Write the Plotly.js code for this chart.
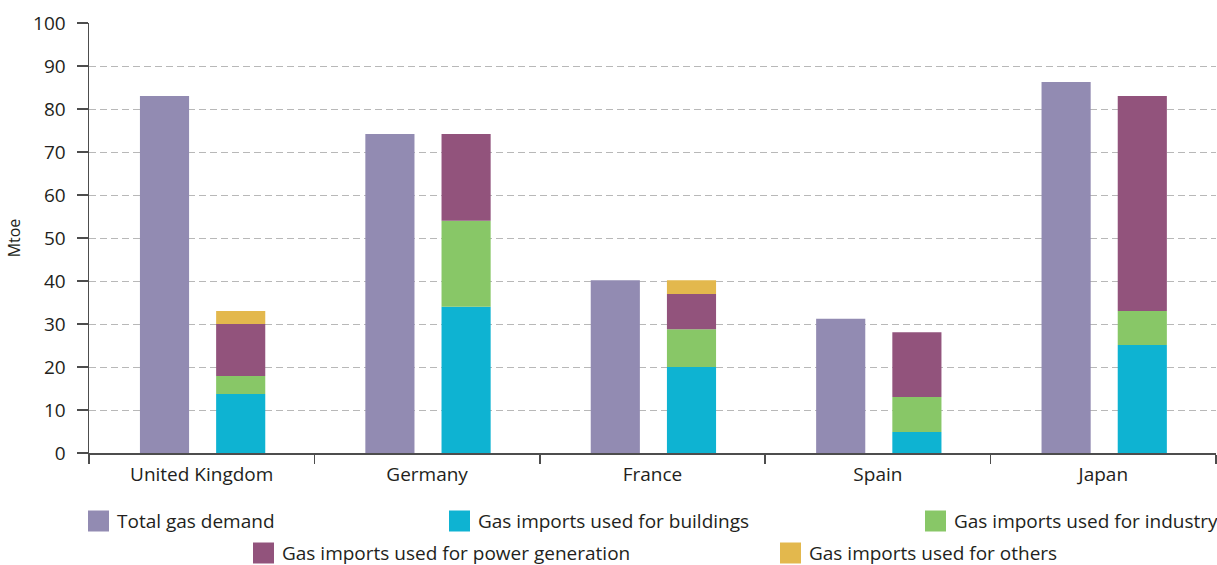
<!DOCTYPE html>
<html>
<head>
<meta charset="utf-8">
<script src="https://cdn.plot.ly/plotly-3.0.1.min.js"></script>
<style>html,body{margin:0;padding:0;background:#fff}#chart{width:1217px;height:565px}</style>
</head>
<body>
<div id="chart"></div>
<script>
const categories = ["United Kingdom", "Germany", "France", "Spain", "Japan"];
const totalDemand = [83, 74.2, 40.2, 31.2, 86.3];
const importsBuildings = [13.7, 34, 20, 4.9, 25.1];
const importsIndustry = [4.2, 20, 8.8, 8.1, 7.9];
const importsPower = [12.1, 20.2, 8.2, 15.1, 50];
const importsOthers = [3, 0, 3.2, 0, 0];
const yTicks = [0, 10, 20, 30, 40, 50, 60, 70, 80, 90, 100];

const seriesNames = ["Total gas demand", "Gas imports used for buildings", "Gas imports used for industry", "Gas imports used for power generation", "Gas imports used for others"];
const seriesColors = ["#928BB2", "#0EB3D2", "#88C767", "#92537C", "#E3B84D"];

const FONT = "'Open Sans', 'Noto Sans', sans-serif";
const TXT = "#231F20";
const BW = 0.218;

const traces = [];
traces.push({
  type: "bar", x: categories, y: totalDemand, name: seriesNames[0],
  marker: {color: seriesColors[0]}, width: BW, offset: -0.274, showlegend: false, hoverinfo: "x+y+name"
});
const stackSeries = [importsBuildings, importsIndustry, importsPower, importsOthers];
let base = categories.map(() => 0);
stackSeries.forEach((vals, i) => {
  traces.push({
    type: "bar", x: categories, y: vals, base: base.slice(), name: seriesNames[i + 1],
    marker: {color: seriesColors[i + 1]}, width: BW, offset: 0.064, showlegend: false, hoverinfo: "x+y+name"
  });
  base = base.map((b, j) => b + vals[j]);
});

// legend (manual, to match large square swatches); pixel positions converted to paper coords
const W = 1217, H = 565;
const M = {l: 89, r: 1, t: 23, b: 112};
const PW = W - M.l - M.r, PH = H - M.t - M.b;
const px = v => (v - M.l) / PW;
const py = v => (H - M.b - v) / PH;
const legendPos = [
  {x: 88, y: 521}, {x: 449, y: 521}, {x: 925, y: 521},
  {x: 253, y: 553}, {x: 780, y: 553}
];
const shapes = [], annotations = [];
seriesNames.forEach((n, i) => {
  const p = legendPos[i];
  shapes.push({type: "rect", xref: "paper", yref: "paper", layer: "above",
    x0: px(p.x), x1: px(p.x + 21), y0: py(p.y + 10.5), y1: py(p.y - 10.5),
    fillcolor: seriesColors[i], line: {width: 0}});
  annotations.push({xref: "paper", yref: "paper", x: px(p.x + 27), y: py(p.y),
    xanchor: "left", yanchor: "middle", showarrow: false, text: n,
    font: {family: FONT, size: 19, color: TXT}});
});

const layout = {
  width: W, height: H,
  margin: M,
  paper_bgcolor: "#fff", plot_bgcolor: "#fff",
  barmode: "overlay",
  showlegend: false,
  font: {family: FONT, color: TXT},
  xaxis: {
    type: "category", range: [-0.5, 4.5], tickson: "boundaries",
    ticks: "outside", ticklen: 9, tickwidth: 1.5, tickcolor: "#4d4d4d",
    showline: true, linecolor: "#4d4d4d", linewidth: 1.5,
    showgrid: false, tickfont: {family: FONT, size: 19, color: TXT},
    ticklabelstandoff: 4
  },
  yaxis: {
    range: [0, 100], tickvals: yTicks, ticktext: yTicks.map(String),
    ticks: "outside", ticklen: 11, tickwidth: 1.5, tickcolor: "#4d4d4d",
    showline: true, linecolor: "#4d4d4d", linewidth: 1.5,
    showgrid: true, gridcolor: "#b8b8b8", gridwidth: 1, griddash: "7px,4px",
    zeroline: false, tickfont: {family: FONT, size: 19, color: TXT},
    ticklabelstandoff: 7,
    title: {text: "Mtoe", font: {family: FONT, size: 16, color: TXT}, standoff: 8}
  },
  shapes: shapes,
  annotations: annotations
};

Plotly.newPlot("chart", traces, layout, {displayModeBar: false, staticPlot: true});
</script>
</body>
</html>
